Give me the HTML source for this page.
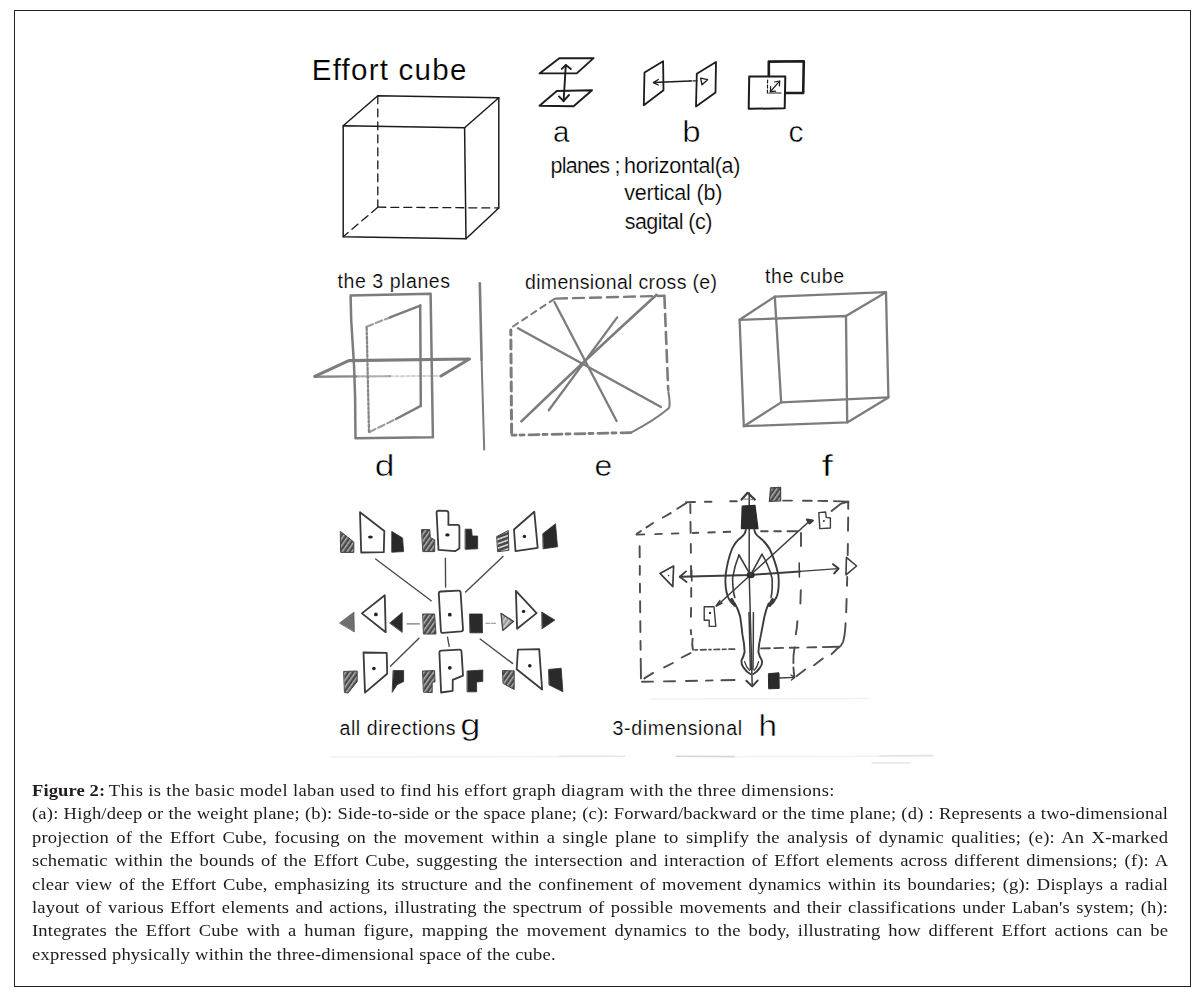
<!DOCTYPE html>
<html>
<head>
<meta charset="utf-8">
<title>Figure 2</title>
<style>
html,body{margin:0;padding:0;background:#fff;}
body{width:1204px;height:998px;position:relative;overflow:hidden;font-family:"Liberation Serif",serif;}
#frame{position:absolute;left:14px;top:10px;width:1175px;height:975px;border:1px solid #222;background:#fff;}
#fig{position:absolute;left:0;top:0;width:1204px;height:998px;}
#fig text{font-family:"Liberation Sans",sans-serif;fill:#000;stroke:#fff;stroke-width:0.2px;}
#fig text.big{stroke-width:0.5px;}
#fig text.ttl{stroke-width:0.15px;}
#cap{position:absolute;left:32.3px;top:779px;width:1071.9px;transform:scaleX(1.06);transform-origin:0 0;font-family:"Liberation Serif",serif;font-size:17.5px;line-height:23.4px;color:#1f1a1b;letter-spacing:0.17px;}
#cap .l{display:block;height:23.4px;white-space:nowrap;text-align:justify;text-align-last:justify;}
#cap .n{text-align:left;text-align-last:left;}
</style>
</head>
<body>
<div id="frame"></div>
<svg id="fig" width="1204" height="998" viewBox="0 0 1204 998">
<!-- ROW1 -->
<g id="row1" fill="none" stroke="#1c1c1c" stroke-linecap="round" stroke-linejoin="round" filter="url(#soft3)">
<!-- effort cube -->
<g stroke-width="1.5">
<path d="M343.2 125.8 L464.6 127.8 L466 238.8 L343.2 236.8 Z"/>
<path d="M343.2 125.8 L377.8 95.8 L498.8 97.8 L464.6 127.8"/>
<path d="M498.8 97.8 L498.8 208 L466 238.8"/>
</g>
<g stroke-width="1.3" stroke-dasharray="8 5">
<path d="M377.8 95.8 L377.8 207.2"/>
<path d="M377.8 207.2 L498.8 208"/>
<path d="M377.8 207.2 L343.2 236.8"/>
</g>
<!-- icon a -->
<g stroke-width="1.9">
<path d="M539.5 73.4 L559.3 58.3 L593.6 58.1 L576.7 73.4 Z"/>
<path d="M539.5 105.8 L556.8 91 L592 90.2 L573.6 106.2 Z"/>
<path d="M565.8 65.2 L563.6 101"/>
<path d="M561.8 68.9 L565.8 65 L570.9 68.9"/>
<path d="M559 96.4 L563.5 101.2 L569 95"/>
</g>
<!-- icon b -->
<g stroke-width="1.8">
<path d="M644.5 72.4 L663.1 61.2 L663.5 90.2 L643.8 105.2 Z"/>
<path d="M696.8 73.8 L716 62 L715.5 92.4 L696 106.5 Z"/>
</g>
<g stroke-width="1.3">
<path d="M653.6 82.5 L690 81"/>
<path d="M690 81 L697 80.8" stroke-dasharray="2 1.5"/>
<path d="M658.3 79.5 L653.4 82.6 L658.3 85"/>
<path d="M700.6 78.2 L707.6 79.7 L702 84.8 Z"/>
</g>
<!-- icon c -->
<path stroke-width="2.6" d="M768.8 76 L768.8 61.6 L803.8 61.2 L803.2 93 L785.6 93"/>
<path stroke-width="2" d="M749.2 76.6 L785.3 76.6 L784.7 108.3 L748.7 108.8 Z"/>
<g stroke-width="1.2">
<path d="M767.6 80 L767.4 93.5" stroke-dasharray="3 2"/>
<path d="M768.8 93 L781 93"/>
<path d="M770.5 91.5 L779.6 81.2"/>
<path d="M774.6 82 L779.8 81 L779.4 86"/>
<path d="M770.6 86.5 L770.4 91.6 L775.6 91.2"/>
</g>
</g>
<g id="row1t">
<text class="ttl" x="311.8" y="80.3" font-size="29.5" textLength="154.5" lengthAdjust="spacing">Effort cube</text>
<text class="big" x="553" y="142.2" font-size="29.5">a</text>
<text class="big" transform="translate(682.3,142.3) scale(1.1,1)" font-size="30">b</text>
<text class="big" x="788.5" y="142.3" font-size="30">c</text>
<text x="550.5" y="172.8" font-size="21.5" textLength="70" lengthAdjust="spacing">planes ;</text>
<text x="624" y="172.8" font-size="21.5" textLength="116.5" lengthAdjust="spacing">horizontal(a)</text>
<text x="624.3" y="200" font-size="21.5" textLength="98" lengthAdjust="spacing">vertical (b)</text>
<text x="624.8" y="228.8" font-size="21.5" textLength="87.5" lengthAdjust="spacing">sagital (c)</text>
</g>
<!-- /ROW1 -->
<!-- ROW2 -->
<defs>
<filter id="soft" filterUnits="userSpaceOnUse" x="0" y="0" width="1204" height="998"><feGaussianBlur stdDeviation="0.55"/></filter>
<filter id="soft2" filterUnits="userSpaceOnUse" x="0" y="0" width="1204" height="998"><feGaussianBlur stdDeviation="0.45"/></filter>
<filter id="soft3" filterUnits="userSpaceOnUse" x="0" y="0" width="1204" height="998"><feGaussianBlur stdDeviation="0.3"/></filter>
</defs>
<g id="row2" fill="none" stroke="#7c7c7c" stroke-linecap="round" stroke-linejoin="round" filter="url(#soft)">
<!-- d: three planes -->
<path stroke-width="2.5" d="M350.6 295.6 L430.6 293.8 L432.9 437.2 L355.5 438.2 L355.1 397 L354 365 L353 349 L351.2 320 Z"/>
<path stroke-width="2.5" d="M420.2 305.6 L420.8 405.8"/>
<path stroke-width="2.2" d="M366.4 326.8 L390 317.4" stroke-dasharray="7 3" stroke-opacity="0.75"/>
<path stroke-width="2.5" d="M390 317.4 L420.2 305.6"/>
<path stroke-width="2.2" d="M369.2 432.2 L396 419" stroke-dasharray="7 3" stroke-opacity="0.75"/>
<path stroke-width="2.5" d="M396 419 L420.8 405.8"/>
<path stroke-width="2.3" d="M366.7 328 L369 431.6" stroke-dasharray="2.4 2" stroke-opacity="0.9"/>
<path stroke-width="3.1" d="M314.8 376.4 L348.8 360.6 L469.5 359 L441 376"/>
<path stroke-width="2.4" d="M314.8 376.8 L356 376.4" stroke-opacity="0.9"/>
<path stroke-width="2.2" d="M356 376.4 L390 376.2" stroke-dasharray="4 1.5" stroke-opacity="0.6"/>
<path stroke-width="2" d="M390 376.2 L441 376" stroke-dasharray="3 2.5" stroke-opacity="0.35"/>
<path stroke-width="2.6" d="M479.8 283.2 L481.6 360"/>
<path stroke-width="2" d="M481.6 360 L484.2 449.6"/>
<!-- e: dimensional cross -->
<path stroke-width="2.4" d="M518 328.2 L661 407"/>
<path stroke-width="2.3" d="M554.4 302 L616.6 421"/>
<path stroke-width="2.6" d="M656.6 294.8 Q585 360 521.4 421.4"/>
<path stroke-width="2.3" d="M617.2 317.4 L548.8 410.2"/>
<path stroke-width="2" d="M513 326.5 L554.5 298.8" stroke-dasharray="6 5"/>
<path stroke-width="2.4" d="M556 298.6 L664.2 295.8" stroke-dasharray="11 6"/>
<path stroke-width="2.6" d="M664.4 296 L668.2 390" stroke-dasharray="12 6"/>
<path stroke-width="2" d="M668.4 392 Q670.5 404 669 408 Q655 420 631.4 432.4"/>
<path stroke-width="2.8" d="M631 432.6 L512 435.2" stroke-dasharray="10 5 4 4"/>
<path stroke-width="3" d="M511.6 433 L510.8 330" stroke-dasharray="9 5"/>
<!-- f: the cube -->
<g stroke-width="2.3">
<path d="M739.6 319.8 L846 316 L847.2 422.4 L743.8 426.2 Z"/>
<path d="M739.6 319.8 L774.8 296.6 L886 292.2 L846 316"/>
<path d="M886 292.2 L888.4 397.4 L847.2 422.4"/>
<path d="M774.8 296.6 L781.2 402.4 L888.4 397.4"/>
<path d="M781.2 402.4 L743.8 426.2"/>
</g>
</g>
<g id="row2t">
<text x="337.5" y="287.5" font-size="19.5" textLength="112.5" lengthAdjust="spacing">the 3 planes</text>
<text x="525" y="288.8" font-size="19.5" textLength="192" lengthAdjust="spacing">dimensional cross (e)</text>
<text x="765" y="283.2" font-size="19.5" textLength="79" lengthAdjust="spacing">the cube</text>
<text class="big" transform="translate(374.8,476.2) scale(1.2,1)" font-size="29.5">d</text>
<text class="big" transform="translate(594.4,476.2) scale(1.08,1)" font-size="29.5">e</text>
<text class="big" transform="translate(821.4,476.2) scale(1.4,1)" font-size="29.5">f</text>
</g>
<!-- /ROW2 -->
<!-- ROW3G -->
<defs>
<pattern id="hat" patternUnits="userSpaceOnUse" width="4" height="4" patternTransform="rotate(-55)">
<rect width="4" height="4" fill="#4a4a4a"/><rect y="0" width="4" height="1.5" fill="#b0b0b0"/>
</pattern>
<pattern id="hat2" patternUnits="userSpaceOnUse" width="4" height="4.2" patternTransform="rotate(-20)">
<rect width="4" height="4.2" fill="#4a4a4a"/><rect y="0" width="4" height="1.7" fill="#d0d0d0"/>
</pattern>
</defs>
<g id="g-diag" filter="url(#soft2)" stroke-linejoin="round" stroke-linecap="round">
<!-- hatched shapes -->
<g fill="url(#hat)" stroke="#444" stroke-width="1">
<path d="M340.6 531.6 L353.8 542 L353.8 552.4 L341 552.4 Z"/>
<path d="M421.8 529.6 L429.8 529.6 L430.3 537.6 L434.7 539.8 L434.7 551.6 L423.2 551.6 Z"/>
<path d="M423 614 L434.6 614 L436 634 L423.8 634 Z"/>
<path d="M344 671.4 L357.2 671 L357.2 681.6 L348 693 L344.8 692.6 Z"/>
<path d="M422.8 671 L434.6 670.6 L435 681.8 L432.2 682.4 L432.2 692.6 L423.8 692.2 Z"/>
<path d="M502.8 670.6 L514.2 670.8 L514.2 689.5 L503.4 683.6 Z"/>
</g>
<path fill="url(#hat2)" stroke="#444" stroke-width="1" d="M497 536.4 L508.3 530.5 L508.9 550.3 L498 551.7 Z"/>
<path fill="#6e6e6e" stroke="#555" stroke-width="0.8" d="M339.8 622.9 L353.9 612.2 L354.3 631.6 Z"/>
<path fill="url(#hat)" fill-opacity="0.55" stroke="#444" stroke-width="1.3" d="M501 613.4 L513.4 621.4 L502.8 630.4 Z"/>
<!-- black shapes -->
<g fill="#2c2c2c" stroke="#2c2c2c" stroke-width="0.8">
<path d="M392 531.6 L402.6 538 L403.6 551.6 L392 552.2 Z"/>
<path d="M465.5 529.2 L471.6 529.2 L472.2 536 L477.6 536 L477.6 548.8 L465.5 549.3 Z"/>
<path d="M543 533.6 L555.5 523.8 L557.5 546.8 L543.4 548.8 Z"/>
<path d="M390 622.9 L402.2 612.6 L402.2 632 Z"/>
<path d="M469.8 614 L482.2 614 L482.5 632.8 L470.2 632.8 Z"/>
<path d="M542 612.2 L554.8 620.1 L542.3 628.6 Z"/>
<path d="M393.4 670.6 L403.6 670.6 L403.6 681.6 L397 684.8 L392.4 692 Z"/>
<path d="M467.4 671 L482.8 670 L482.8 681.4 L476.6 682 L476.6 691.8 L467.4 691.8 Z"/>
<path d="M548.8 669.4 L561.2 668.2 L562.9 691.8 L549.3 685 Z"/>
</g>
<!-- white outlined shapes -->
<g fill="#fff" stroke="#3a3a3a" stroke-width="1.8">
<path d="M360 512.2 L384.3 531 L383.8 552.2 L361.2 552.5 Z"/>
<path d="M436.6 512.5 Q436.6 510.6 438.6 510.6 L446.4 510.9 Q448.4 511 448.4 513 L448.4 524.9 L457.4 524.9 Q459.4 524.9 459.4 526.9 L459.4 548.6 L455 551.2 L438.5 549.9 Z"/>
<path d="M514 529.5 L534.3 511.8 L537.7 547.9 L515.5 551.2 Z"/>
<path d="M361.9 613.4 L384.8 595.2 L385.7 632.2 Z"/>
<path d="M438.8 593.6 Q438.8 591.6 440.8 591.5 L458.5 590.6 Q460.5 590.5 460.6 592.5 L463 629.3 Q463.1 631.2 461.1 631.4 L443 632.8 Q441 633 440.9 631 Z"/>
<path d="M515.9 590.8 L536.6 613.1 L517.1 628.7 Z"/>
<path d="M363.5 652.5 L386.7 652.8 L387.2 673.8 L365 692.6 Z"/>
<path d="M439.4 652.6 Q439.4 650.7 441.4 650.6 L459.4 649.6 Q461.4 649.5 461.5 651.5 L463 675.6 L452.7 679.8 L452.7 690.8 L441.1 692.5 Z"/>
<path d="M517.9 649.6 L539.2 649.1 L542.1 689.5 L516.7 669.3 Z"/>
</g>
<!-- dots -->
<g fill="#222" stroke="none">
<ellipse cx="370.4" cy="537" rx="2.4" ry="1.6"/>
<ellipse cx="447.4" cy="534.9" rx="2.2" ry="1.6"/>
<circle cx="524.4" cy="536.4" r="1.7"/>
<circle cx="375.9" cy="614.4" r="1.9"/>
<circle cx="449.8" cy="614.7" r="1.9"/>
<circle cx="523.6" cy="611.4" r="1.7"/>
<circle cx="373.9" cy="668.5" r="1.8"/>
<circle cx="449.8" cy="667.8" r="1.9"/>
<circle cx="529.8" cy="665.8" r="1.8"/>
</g>
<!-- connector lines -->
<g fill="none" stroke="#4a4a4a" stroke-width="1.4">
<path d="M375.6 559 L431.2 600.8"/>
<path d="M445.4 558.2 L445.6 587"/>
<path d="M503 556.4 L465.6 592"/>
<path d="M419 638.2 L390.4 666.3"/>
<path d="M447.5 637.2 L449.2 646.4"/>
<path d="M480.2 639 L512.5 663.4"/>
<path d="M407 623.8 L419.5 623.8" stroke="#777" stroke-width="1.2"/>
<path d="M486 623.2 L496.8 623.2" stroke="#888" stroke-width="1.1" stroke-dasharray="4 1.5"/>
</g>
</g>
<g id="streaks" fill="none" stroke-linecap="round" filter="url(#soft)">
<path d="M330 757 L560 756.6" stroke="#f1f1f1" stroke-width="1.6"/>
<path d="M560 756.4 L625 756.2" stroke="#e6e6e6" stroke-width="1.6"/>
<path d="M676 756.2 L735 756.6" stroke="#d6d6d6" stroke-width="1.6"/>
<path d="M735 756.6 L880 756.2" stroke="#f1f1f1" stroke-width="1.4"/>
<path d="M880 756 L933 755.6" stroke="#e2e2e2" stroke-width="1.6"/>
<path d="M872 763 L910 763" stroke="#e6e6e6" stroke-width="1.4"/>
<path d="M650 699 L870 698.6" stroke="#f2f2f2" stroke-width="1.5"/>
</g>
<g id="row3t">
<text x="339.5" y="735" font-size="19.5" textLength="116" lengthAdjust="spacing">all directions</text>
<text class="big" transform="translate(460.2,735.4) scale(1.25,1)" font-size="29">g</text>
<text x="612.5" y="734.6" font-size="19.5" textLength="129.5" lengthAdjust="spacing">3-dimensional</text>
<text class="big" transform="translate(758.4,736) scale(1.15,1)" font-size="29">h</text>
</g>
<!-- /ROW3G -->
<!-- ROW3H -->
<g id="h-diag" filter="url(#soft2)" fill="none" stroke="#3c3c3c" stroke-linejoin="round" stroke-linecap="round">
<!-- dashed cube -->
<g stroke-width="1.9" stroke="#4d4d4d">
<path d="M636.5 534.6 L644.3 534.4 M655.3 534.1 L661.9 533.9 M671.8 533.6 L678.4 533.4 M692.8 533 L698.3 532.8 M708.2 532.5 L714.8 532.3 M723.6 532 L730.2 531.8"/>
<path d="M761.1 531.3 L767.7 531.3 M774.3 531.2 L780.9 531.2 M787.5 531.2 L797.4 531.2"/>
<path d="M639.6 546.1 L639.7 557.2 M639.8 566 L639.8 574.8 M639.9 583.6 L640 592.4 M640.1 601.3 L640.2 612.3 M640.3 621.1 L640.4 632.1 M640.5 640.9 L640.6 649.8 M640.7 658.6 L641 678.4"/>
<path d="M642 681.8 L653 681.6 M664 681.4 L675 681.2 M686 681 L697 680.8 M706 680.6 L712.6 680.4 M721.4 680.2 L734.6 680"/>
<path d="M686 502.2 L695 502 M704.9 501.8 L711.5 501.7 M730.2 501.3 L736.8 501.2"/>
<path d="M783.1 500.6 L792 500.6 M803 500.7 L811.8 500.8 M818.4 500.9 L827.2 501 M833.8 501.1 L848.2 501.6"/>
<path d="M646.5 527.4 L653.1 523 M663 517.5 L670.7 513.1 M677.3 508.7 L686.1 503.1 M636.8 533.8 L641 531"/>
<path d="M690.3 504.3 L690.4 513.1 M690.5 521.9 L690.6 532.9 M690.8 543.9 L690.9 552.8 M691 566 L691.1 577 M691.2 588 L691.2 596.8 M691.1 607.9 L690.9 616.7"/>
<path d="M690.8 630 L691.2 634.3 M692.6 638.7 Q691.6 645 693 649.8"/>
<path d="M695 649.9 L697.2 649.85 M700.5 649.8 L706 649.7 M709 649.6 L711 649.55 M714 649.5 L719.5 649.4 M722.5 649.3 L726 649.25 M729 649.2 L734.6 649.1" stroke-width="1.7"/>
<path d="M761.1 648.4 L769.9 648.2 M774.3 648.1 L783.1 647.9 M789.8 647.8 L798.6 647.6 M807.4 647.4 L816.2 647.2 M822.8 647.1 L838.3 646.8"/>
<path d="M644.3 678.4 L653.1 672.9 M664.1 667.4 L672.9 663 M681.7 657.5 L690.5 653.1"/>
<path d="M848.4 501.8 Q843 502.6 840.5 504 L831.6 510.9"/>
<path d="M848.2 502 L848.2 508.7 M848.2 517.5 L848 530.7 M847.9 543.9 L847.7 555 M847.2 577 L847 585.8 M846.6 599 L846.2 612.3 M845.6 623.3 Q845 636 843 642 Q841.6 645.6 838.6 647.6"/>
<path d="M838.3 647.5 L831.6 654.2 M822.8 658.6 L814 665.2 M805.2 669.6 L796.4 676.2"/>
<path d="M801 532.9 L801 546.1 M800.8 590.2 L800.4 603.5 M797.4 621.1 Q797 628 795.8 634.3 M794.6 647.5 Q793 656 793.4 663 M793.4 667.4 L794.2 676.2"/>
</g>
<!-- axes -->
<g stroke-width="1.5">
<path d="M749.2 493 L749.2 575 L752.2 685.6"/>
<path d="M741.6 499.6 L747.6 492.8 L754.8 499.6" stroke-width="2.2"/><path d="M743.6 499 L753 499.4" stroke-width="1" stroke="#777"/>
<path d="M746.4 680.8 L752.2 686.4 L757.6 680.6" stroke-width="2"/>
<path d="M680 576.8 L750 575 L800 571.4" stroke-width="2"/><path d="M800 571.4 L838 568.6" stroke-width="1.4"/>
<path d="M686 571.4 L679.8 576.8 L686.6 582" stroke-width="1.8"/>
<path d="M833 564.2 L838.6 568.5 L834.2 573.4" stroke-width="2"/>
<path d="M691.6 570 L691.8 581"/>
<path d="M799.2 563 L799.4 577"/>
<path d="M716.6 606 L750.4 575 L809.6 521"/>
<path d="M807 519.6 L812.8 520.6 L809.4 523.4 Z" stroke-width="2.2" fill="#333"/>
<path d="M722 603 L716.2 606 L719.8 600.6" />
</g>
<ellipse cx="750.6" cy="575" rx="4" ry="3.2" fill="#2a2a2a" stroke="none"/>
<!-- head -->
<path d="M742.2 506 L755 505.4 L758 528.6 L741.4 528.6 Z" fill="#2a2a2a" stroke="#2a2a2a" stroke-width="1.2"/>
<!-- body -->
<g stroke-width="1.9" stroke="#3a3a3a">
<path d="M745.8 529.8 Q745.4 534 741 537.4 Q735 542 732 549 Q727.6 560 725.6 575 Q724.6 588 728 597 Q730.4 602.6 733.6 604.4"/>
<path d="M754.4 529.8 Q754.8 534 759.6 537.6 Q766.4 543 769.6 549 Q775 560 778.4 575 Q779.6 589 776.6 597 Q774 602.6 770 605.4"/>
<path d="M739 555 Q734.4 566 732.6 578 Q732.6 590 734.8 597.4" stroke-width="1.6"/>
<path d="M762.2 554.6 Q768.6 565 772 578 Q772.8 590 771 597.4" stroke-width="1.6"/>
<path d="M739 555 L750.5 575.2 L762 554.2" stroke-width="1.6"/>
<path d="M734.8 603.6 Q738.6 610 740.2 616.8 Q741.6 626 742.4 634.4 Q744.4 644 744.6 652 Q743.4 657 741.4 660.8 Q741.2 665 743.6 667.6 Q746.6 672 750.2 674"/>
<path d="M768.6 603.6 Q765.8 610 764.4 616.8 Q762.6 626 761 634.4 Q758.8 644 758.4 652 Q759.6 657 762 660.8 Q762.4 665 760 667.6 Q757 672 753.4 674"/>
<path d="M749 612.4 Q749.6 640 750.4 669.4" stroke-width="1.5"/>
<path d="M753.4 612.4 Q753.4 640 753 669.4" stroke-width="1.5"/>
<path d="M744.6 661.6 Q746 667 749.6 670.4" stroke-width="1.3"/>
<path d="M758.6 661.6 Q757.4 667 754.2 670.4" stroke-width="1.3"/>
<path d="M731.6 599.6 L734.6 605" stroke-width="3.2"/>
<path d="M772.6 599.6 L769.4 605.4" stroke-width="3.2"/>
</g>
<!-- small symbols -->
<path d="M770.6 487.8 L780.6 487.4 L780.6 501 L769.4 501.4 Z" fill="url(#hat)" stroke="#444" stroke-width="1.2"/>
<path d="M818.8 512.6 L825.6 512 L826.2 517.4 L830.4 518 L830.4 528 L819.8 528.6 Z" fill="#fff" stroke-width="1.4"/>
<circle cx="823.9" cy="521" r="1" fill="#333" stroke="none"/>
<path d="M704.2 606.8 L714 606.8 L715.8 626.4 L709.2 626.4 L709.2 620.2 L704.2 620.2 Z" fill="#fff" stroke-width="1.4"/>
<circle cx="710" cy="613" r="1.2" fill="#333" stroke="none"/>
<path d="M660 573.4 L673.6 566 L672.8 586.6 Z" fill="#fff" stroke-width="1.7"/>
<circle cx="668.6" cy="575.6" r="0.8" fill="#333" stroke="none"/>
<path d="M846.4 557.4 L856.6 566 L846 574.8 Z" fill="#fff" stroke-width="1.6"/>
<path d="M768.8 673.6 L779 672.8 L779.2 688.4 L769 688.8 Z" fill="#2a2a2a" stroke="#2a2a2a" stroke-width="1"/>
<path d="M779.4 678 L794.4 677.4" stroke-width="1.3"/>
<path d="M791 675 L794.6 677.4 L791.4 680" stroke-width="1.3"/>
</g>
<!-- /ROW3H -->
</svg>
<div id="cap">
<span class="l n" style="letter-spacing:0.33px"><b style="letter-spacing:0.1px;margin-right:-1px">Figure 2:</b> This is the basic model laban used to find his effort graph diagram with the three dimensions:</span>
<span class="l">(a): High/deep or the weight plane; (b): Side-to-side or the space plane; (c): Forward/backward or the time plane; (d) : Represents a two-dimensional</span>
<span class="l">projection of the Effort Cube, focusing on the movement within a single plane to simplify the analysis of dynamic qualities; (e): An X-marked</span>
<span class="l">schematic within the bounds of the Effort Cube, suggesting the intersection and interaction of Effort elements across different dimensions; (f): A</span>
<span class="l">clear view of the Effort Cube, emphasizing its structure and the confinement of movement dynamics within its boundaries; (g): Displays a radial</span>
<span class="l">layout of various Effort elements and actions, illustrating the spectrum of possible movements and their classifications under Laban's system; (h):</span>
<span class="l">Integrates the Effort Cube with a human figure, mapping the movement dynamics to the body, illustrating how different Effort actions can be</span>
<span class="l n" style="letter-spacing:0.2px">expressed physically within the three-dimensional space of the cube.</span>
</div>
</body>
</html>
